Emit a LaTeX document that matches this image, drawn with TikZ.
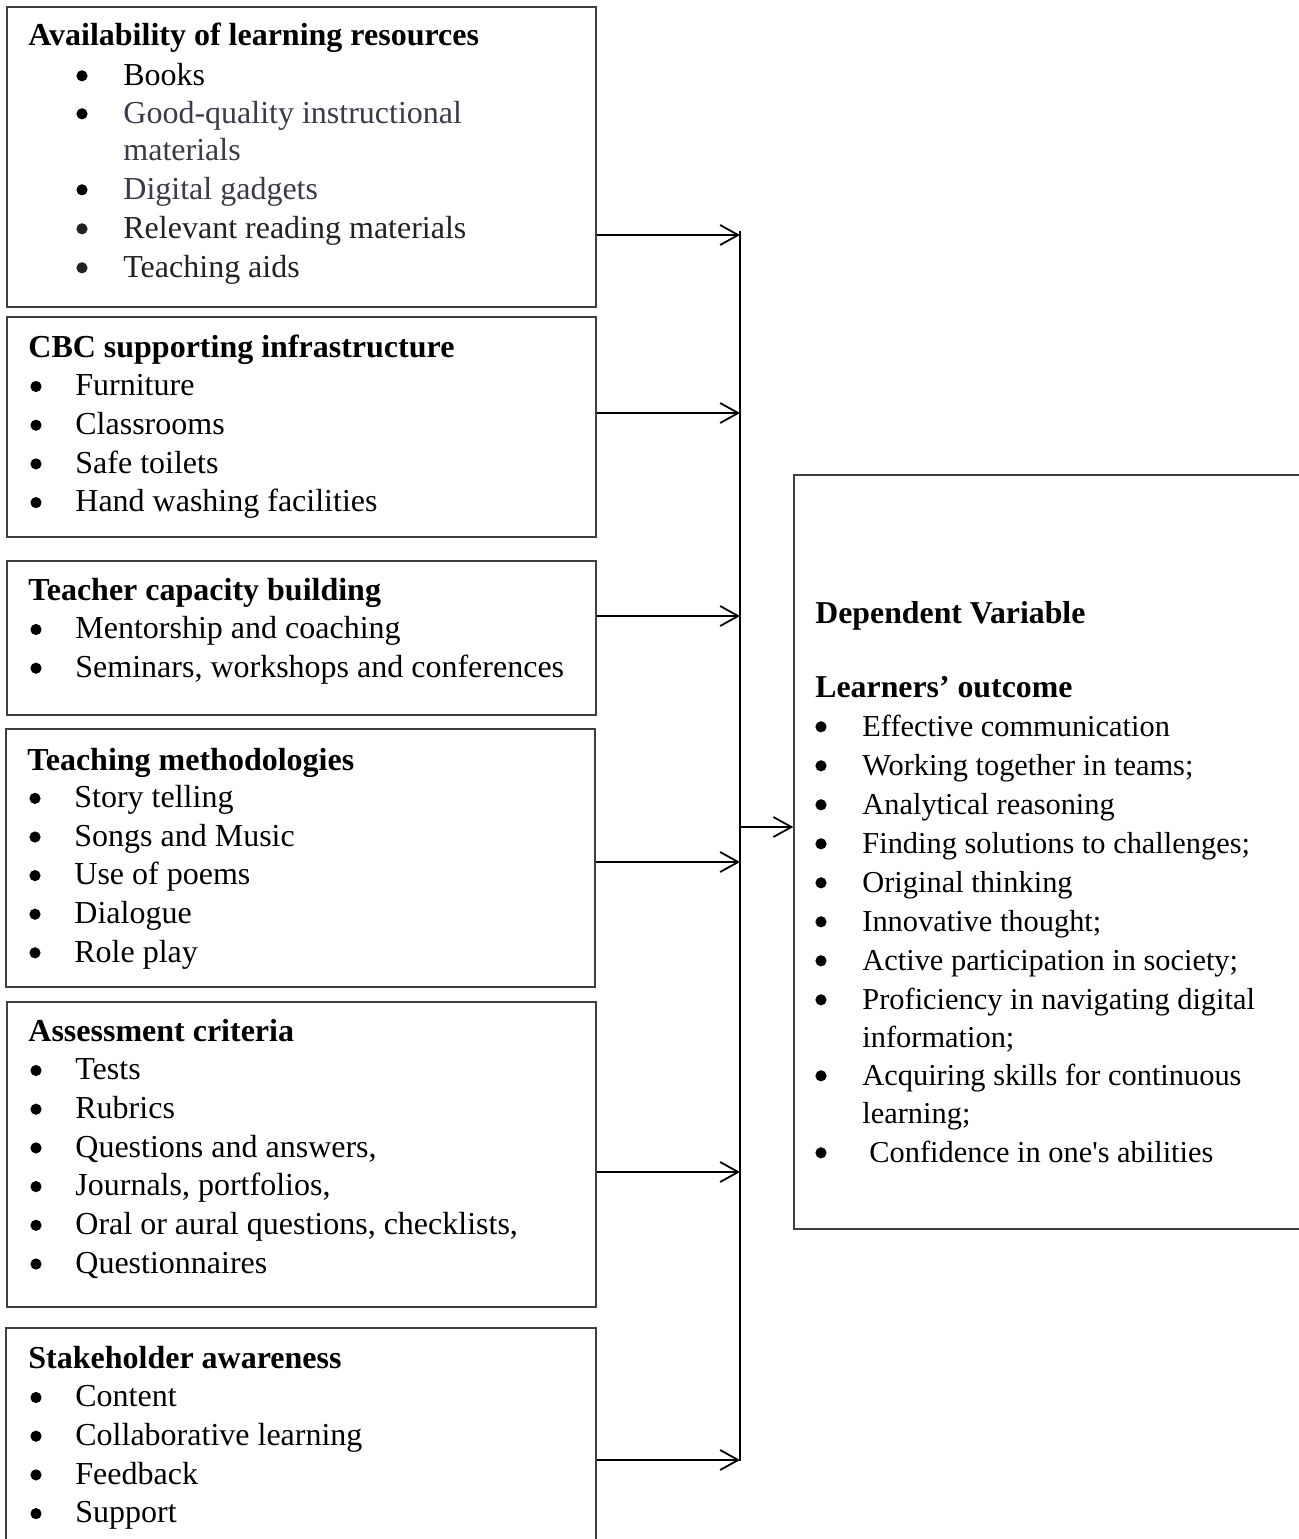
\documentclass[tikz,border=0pt]{standalone}
\usepackage{fontspec}
\setmainfont{Liberation Serif}
\newfontfamily\plainserif{Liberation Serif}
\usetikzlibrary{arrows.meta,fit}
\definecolor{softgray}{HTML}{3B3A48}
\definecolor{nearblack}{HTML}{222222}
\definecolor{framegray}{HTML}{404040}
\newcommand{\itemfont}{\fontsize{16pt}{19pt}\selectfont}
\newcommand{\rightfont}{\fontsize{15.2pt}{18pt}\selectfont}
\begin{document}
\begin{tikzpicture}[x=0.5pt,y=-0.5pt,
  frame/.style={draw=framegray, line width=0.75pt, inner sep=0pt},
  txt/.style={anchor=base west, inner sep=0pt, font=\itemfont},
  rtxt/.style={anchor=base west, inner sep=0pt, font=\rightfont},
  hd/.style={anchor=base west, inner sep=0pt, font=\itemfont\bfseries},
  rhd/.style={anchor=base west, inner sep=0pt, font=\fontsize{15.9pt}{19pt}\selectfont\bfseries},
  bul/.style={circle, fill=black, inner sep=0pt, minimum size=5.6pt, yshift=4.6pt},
  trunk/.style={line width=0.9pt, draw=black},
  link/.style={line width=0.9pt, draw=black, -{Straight Barb[length=9pt,width=10pt,line width=0.9pt]}}
]
\useasboundingbox (0,0) rectangle (1299,1539);

% ---------- frames ----------
\coordinate (b1nw) at (7,7);     \coordinate (b1se) at (596,307);
\coordinate (b2nw) at (7,317);   \coordinate (b2se) at (596,537);
\coordinate (b3nw) at (7,561);   \coordinate (b3se) at (596,715);
\coordinate (b4nw) at (6,729);   \coordinate (b4se) at (595,987);
\coordinate (b5nw) at (7,1002);  \coordinate (b5se) at (596,1307);
\coordinate (b6nw) at (6,1328);  \coordinate (b6se) at (596,1570);
\coordinate (dvnw) at (794,475); \coordinate (dvse) at (1320,1229);
\node[frame, fit=(b1nw)(b1se)] (b1) {};
\node[frame, fit=(b2nw)(b2se)] (b2) {};
\node[frame, fit=(b3nw)(b3se)] (b3) {};
\node[frame, fit=(b4nw)(b4se)] (b4) {};
\node[frame, fit=(b5nw)(b5se)] (b5) {};
\node[frame, fit=(b6nw)(b6se)] (b6) {};
\node[frame, fit=(dvnw)(dvse)] (dv) {};

% ---------- box 1 ----------
\node[hd] (h1) at (28,45) {Availability of learning resources};
\node[bul] (b1u1) at (82,85) {};  \node[txt] (b1t1) at (123,85) {Books};
\node[bul] (b1u2) at (82,123) {}; \node[txt, text=softgray] (b1t2) at (123,123) {Good-quality instructional};
\node[txt, text=softgray] (b1t2b) at (123,160) {materials};
\node[bul] (b1u3) at (82,199) {}; \node[txt, text=softgray] (b1t3) at (123,199) {Digital gadgets};
\node[bul, fill=nearblack] (b1u4) at (82,238) {}; \node[txt, text=nearblack] (b1t4) at (123,238) {Relevant reading materials};
\node[bul, fill=nearblack] (b1u5) at (82,277) {}; \node[txt, text=nearblack] (b1t5) at (123,277) {Teaching aids};

% ---------- box 2 ----------
\node[hd] (h2) at (28,357) {CBC supporting infrastructure};
\foreach \t [count=\i] in {Furniture, Classrooms, Safe toilets, Hand washing facilities}{
  \node[bul] (b2u\i) at (36,357+38.7*\i) {};
  \node[txt] (b2t\i) at (75,357+38.7*\i) {\t};
}

% ---------- box 3 ----------
\node[hd] (h3) at (28,600) {Teacher capacity building};
\foreach \t [count=\i] in {Mentorship and coaching, {Seminars, workshops and conferences}}{
  \node[bul] (b3u\i) at (36,600+38.7*\i) {};
  \node[txt] (b3t\i) at (75,600+38.7*\i) {\t};
}

% ---------- box 4 ----------
\node[hd] (h4) at (27,770) {Teaching methodologies};
\foreach \t [count=\i] in {Story telling, Songs and Music, Use of poems, Dialogue, Role play}{
  \node[bul] (b4u\i) at (35,769+38.6*\i) {};
  \node[txt] (b4t\i) at (74,769+38.6*\i) {\t};
}

% ---------- box 5 ----------
\node[hd] (h5) at (28,1041) {Assessment criteria};
\foreach \t [count=\i] in {Tests, Rubrics, {Questions and answers,}, {Journals, portfolios,}, {Oral or aural questions, checklists,}, Questionnaires}{
  \node[bul] (b5u\i) at (36,1041+38.7*\i) {};
  \node[txt] (b5t\i) at (75,1041+38.7*\i) {\t};
}

% ---------- box 6 ----------
\node[hd] (h6) at (28,1368) {Stakeholder awareness};
\foreach \t [count=\i] in {Content, Collaborative learning, Feedback, Support}{
  \node[bul] (b6u\i) at (36,1368+38.7*\i) {};
  \node[txt] (b6t\i) at (75,1368+38.7*\i) {\t};
}

% ---------- dependent variable box ----------
\node[rhd] (dvh1) at (815,623) {Dependent Variable};
\node[rhd] (dvh2) at (815,697) {Learners’ outcome};
\node[bul] (du1) at (821,736) {};  \node[rtxt] (dt1) at (862,736) {Effective communication};
\node[bul] (du2) at (821,775) {};  \node[rtxt] (dt2) at (862,775) {Working together in teams;};
\node[bul] (du3) at (821,814) {};  \node[rtxt] (dt3) at (862,814) {Analytical reasoning};
\node[bul] (du4) at (821,853) {};  \node[rtxt] (dt4) at (862,853) {Finding solutions to challenges;};
\node[bul] (du5) at (821,892) {};  \node[rtxt] (dt5) at (862,892) {Original thinking};
\node[bul] (du6) at (821,931) {};  \node[rtxt] (dt6) at (862,931) {Innovative thought;};
\node[bul] (du7) at (821,970) {};  \node[rtxt] (dt7) at (862,970) {Active participation in society;};
\node[bul] (du8) at (821,1009) {}; \node[rtxt] (dt8) at (862,1009) {Proficiency in navigating digital};
\node[rtxt] (dt8b) at (862,1047) {information;};
\node[bul] (du9) at (821,1085) {}; \node[rtxt] (dt9) at (862,1085) {Acquiring skills for continuous};
\node[rtxt] (dt9b) at (862,1123) {learning;};
\node[bul] (du10) at (821,1162) {}; \node[rtxt] (dt10) at (869,1162) {\plainserif Confidence in one's abilities};

% ---------- connectors ----------
\coordinate (trtop) at (740,231);
\coordinate (trbot) at (740,1461);
\coordinate (j1) at (740,235);
\coordinate (j2) at (740,413);
\coordinate (j3) at (740,616);
\coordinate (j4) at (740,862);
\coordinate (j5) at (740,1172);
\coordinate (j6) at (740,1460);
\coordinate (jo) at (740,827);
\draw[trunk] (trtop) -- (trbot);
\draw[link] (b1.east |- j1) -- (j1);
\draw[link] (b2.east |- j2) -- (j2);
\draw[link] (b3.east |- j3) -- (j3);
\draw[link] (b4.east |- j4) -- (j4);
\draw[link] (b5.east |- j5) -- (j5);
\draw[link] (b6.east |- j6) -- (j6);
\draw[link] (jo) -- (dv.west |- jo);
\end{tikzpicture}
\end{document}
